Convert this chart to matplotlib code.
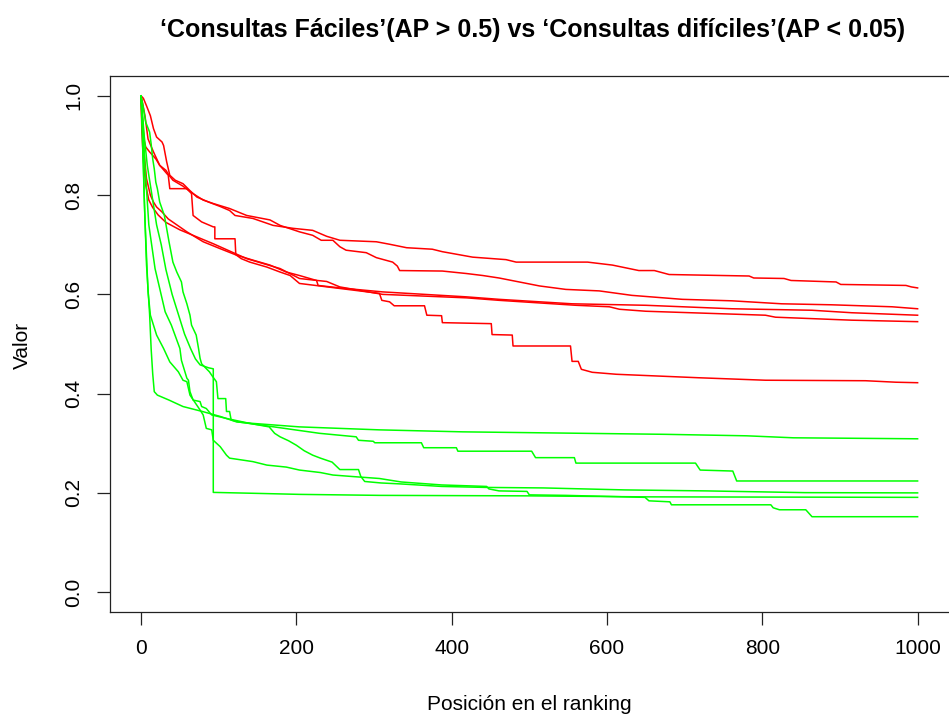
import matplotlib
matplotlib.use("Agg")
import matplotlib.pyplot as plt

plt.rcParams['font.family'] = ['Liberation Sans', 'DejaVu Sans']

# --- easy queries (AP > 0.5), red ---
rank_r1 = [0, 3, 7, 12, 16, 20, 27, 29, 33, 37, 44, 54, 63, 72, 87, 102, 114, 121, 144, 170, 196, 221, 239, 256, 303, 320, 342, 375, 388, 427, 470, 483, 575, 607, 641, 661, 680, 783, 789, 828, 837, 895, 901, 985, 992, 1000]
val_r1 = [1.0, 0.995, 0.980, 0.960, 0.934, 0.917, 0.907, 0.900, 0.867, 0.840, 0.830, 0.823, 0.809, 0.796, 0.786, 0.777, 0.769, 0.759, 0.753, 0.739, 0.733, 0.729, 0.717, 0.709, 0.706, 0.701, 0.694, 0.691, 0.686, 0.675, 0.670, 0.665, 0.665, 0.659, 0.648, 0.648, 0.640, 0.637, 0.633, 0.632, 0.628, 0.625, 0.620, 0.618, 0.615, 0.613]

rank_r2 = [0, 2, 4, 6, 11, 19, 24, 32, 36, 41, 54, 65, 80, 93, 114, 136, 166, 179, 204, 221, 232, 247, 256, 264, 290, 303, 324, 330, 333, 388, 419, 440, 461, 487, 513, 547, 590, 632, 697, 761, 825, 889, 967, 1000]
val_r2 = [1.0, 0.95, 0.91, 0.897, 0.887, 0.873, 0.860, 0.850, 0.840, 0.830, 0.818, 0.805, 0.790, 0.783, 0.773, 0.759, 0.750, 0.739, 0.726, 0.719, 0.709, 0.709, 0.696, 0.689, 0.684, 0.674, 0.665, 0.657, 0.648, 0.647, 0.642, 0.638, 0.633, 0.625, 0.617, 0.610, 0.607, 0.598, 0.590, 0.587, 0.581, 0.579, 0.575, 0.571]

rank_r3 = [0, 1, 3, 7, 12, 16, 20, 27, 35, 59, 80, 102, 123, 144, 166, 187, 204, 226, 228, 256, 311, 419, 461, 555, 650, 761, 864, 915, 1000]
val_r3 = [1.0, 0.95, 0.90, 0.833, 0.800, 0.786, 0.776, 0.766, 0.752, 0.726, 0.706, 0.692, 0.679, 0.669, 0.659, 0.645, 0.638, 0.628, 0.618, 0.613, 0.605, 0.595, 0.590, 0.581, 0.578, 0.571, 0.568, 0.563, 0.558]

rank_r4 = [0, 1, 3, 6, 10, 15, 22, 32, 50, 93, 136, 179, 204, 221, 239, 256, 311, 419, 461, 560, 603, 616, 650, 804, 817, 915, 1000]
val_r4 = [1.0, 0.93, 0.87, 0.82, 0.79, 0.775, 0.76, 0.745, 0.730, 0.702, 0.672, 0.652, 0.632, 0.629, 0.626, 0.615, 0.600, 0.593, 0.588, 0.578, 0.575, 0.570, 0.566, 0.558, 0.554, 0.548, 0.545]

rank_r5 = [0, 2, 5, 9, 16, 24, 35, 37, 59, 65, 67, 78, 84, 93, 95, 95, 121, 122, 129, 140, 162, 179, 192, 204, 307, 310, 320, 326, 365, 368, 387, 388, 451, 452, 478, 479, 553, 555, 563, 567, 581, 612, 718, 804, 933, 972, 1000]
val_r5 = [1.0, 0.985, 0.960, 0.913, 0.887, 0.860, 0.840, 0.813, 0.813, 0.803, 0.759, 0.746, 0.742, 0.736, 0.736, 0.712, 0.712, 0.680, 0.672, 0.665, 0.655, 0.645, 0.638, 0.622, 0.602, 0.588, 0.585, 0.577, 0.577, 0.558, 0.557, 0.543, 0.541, 0.519, 0.518, 0.496, 0.496, 0.465, 0.465, 0.449, 0.443, 0.439, 0.432, 0.427, 0.426, 0.423, 0.422]

# --- hard queries (AP < 0.05), green ---
rank_g1 = [0, 2, 4, 7, 11, 13, 15, 17, 21, 36, 54, 79, 102, 123, 144, 204, 307, 414, 675, 780, 840, 1000]
val_g1 = [1.0, 0.93, 0.80, 0.66, 0.56, 0.49, 0.44, 0.404, 0.397, 0.387, 0.374, 0.364, 0.354, 0.343, 0.340, 0.333, 0.327, 0.323, 0.318, 0.315, 0.311, 0.309]

rank_g2 = [0, 3, 6, 11, 13, 15, 17, 19, 21, 24, 30, 36, 41, 46, 52, 54, 59, 63, 65, 71, 74, 76, 78, 88, 91, 97, 99, 109, 110, 114, 116, 125, 162, 230, 277, 280, 299, 301, 361, 364, 406, 408, 503, 508, 558, 560, 714, 720, 762, 767, 1000]
val_g2 = [1.0, 0.975, 0.947, 0.927, 0.903, 0.873, 0.853, 0.826, 0.813, 0.786, 0.759, 0.706, 0.665, 0.645, 0.625, 0.605, 0.581, 0.558, 0.538, 0.518, 0.491, 0.471, 0.460, 0.444, 0.437, 0.424, 0.390, 0.390, 0.364, 0.364, 0.347, 0.343, 0.335, 0.320, 0.313, 0.306, 0.304, 0.301, 0.301, 0.291, 0.291, 0.284, 0.284, 0.271, 0.271, 0.260, 0.260, 0.246, 0.244, 0.224, 0.224]

rank_g3 = [0, 2, 5, 10, 18, 24, 31, 39, 50, 52, 59, 61, 63, 67, 76, 78, 84, 91, 110, 125, 140, 165, 172, 179, 190, 200, 210, 221, 231, 246, 256, 280, 283, 288, 309, 335, 387, 445, 518, 623, 728, 855, 1000]
val_g3 = [1.0, 0.95, 0.86, 0.74, 0.652, 0.612, 0.565, 0.538, 0.491, 0.467, 0.431, 0.427, 0.404, 0.387, 0.384, 0.374, 0.370, 0.357, 0.350, 0.345, 0.340, 0.333, 0.320, 0.313, 0.305, 0.296, 0.285, 0.276, 0.270, 0.262, 0.247, 0.247, 0.233, 0.223, 0.220, 0.218, 0.213, 0.211, 0.210, 0.206, 0.204, 0.2005, 0.200]

rank_g4 = [0, 2, 4, 8, 12, 16, 20, 26, 32, 40, 48, 56, 64, 70, 76, 87, 93, 93, 150, 204, 307, 500, 649, 1000]
val_g4 = [1.0, 0.96, 0.92, 0.86, 0.82, 0.78, 0.74, 0.70, 0.65, 0.60, 0.56, 0.52, 0.49, 0.47, 0.458, 0.452, 0.450, 0.201, 0.199, 0.197, 0.195, 0.194, 0.192, 0.191]

rank_g5 = [0, 2, 5, 9, 12, 20, 29, 37, 48, 54, 59, 63, 76, 80, 84, 91, 93, 102, 110, 114, 144, 162, 187, 204, 231, 247, 272, 307, 335, 387, 445, 448, 461, 497, 500, 547, 649, 654, 681, 683, 811, 814, 822, 856, 864, 1000]
val_g5 = [1.0, 0.90, 0.75, 0.605, 0.558, 0.518, 0.491, 0.464, 0.444, 0.427, 0.424, 0.397, 0.367, 0.357, 0.330, 0.327, 0.306, 0.293, 0.276, 0.270, 0.263, 0.256, 0.252, 0.246, 0.241, 0.236, 0.233, 0.229, 0.222, 0.216, 0.213, 0.208, 0.204, 0.203, 0.196, 0.195, 0.191, 0.184, 0.182, 0.176, 0.176, 0.170, 0.166, 0.166, 0.152, 0.152]

easy = [(rank_r1, val_r1), (rank_r2, val_r2), (rank_r3, val_r3), (rank_r4, val_r4), (rank_r5, val_r5)]
hard = [(rank_g1, val_g1), (rank_g2, val_g2), (rank_g3, val_g3), (rank_g4, val_g4), (rank_g5, val_g5)]

xticks = [0, 200, 400, 600, 800, 1000]
yticks = [0.0, 0.2, 0.4, 0.6, 0.8, 1.0]

W, H = 949, 715
fig = plt.figure(figsize=(W / 100, H / 100), dpi=100)
ax = fig.add_axes([110 / W, (H - 612) / H, 841 / W, 536 / H])

for r, v in easy:
    ax.plot(r, v, color='#FF0000', lw=1.1)
for r, v in hard:
    ax.plot(r, v, color='#00FF00', lw=1.1)

ax.set_xlim(-40, 1043)
ax.set_ylim(-0.04, 1.04)
ax.set_xticks(xticks)
ax.set_xticklabels([str(t) for t in xticks])
ax.set_yticks(yticks)
ax.set_yticklabels(['%.1f' % t for t in yticks], rotation=90, va='center')
ax.tick_params(direction='out', length=9.4, width=0.9, labelsize=15, pad=10, color='#222222')
for s in ax.spines.values():
    s.set_linewidth(0.9)
    s.set_color('#222222')
ax.spines['right'].set_visible(False)

fig.text(22 / W, 1 - 345 / H, 'Valor', rotation=90, fontsize=15, ha='center', va='center')
fig.text(529.5 / W, 1 - 705 / H, 'Posición en el ranking', fontsize=15, ha='center', va='center')
fig.text(533 / W, 1 - 30 / H, '‘Consultas Fáciles’(AP > 0.5) vs ‘Consultas difíciles’(AP < 0.05)',
         fontsize=18, fontweight='bold', ha='center', va='center')

fig.savefig('out.png', dpi=100)
